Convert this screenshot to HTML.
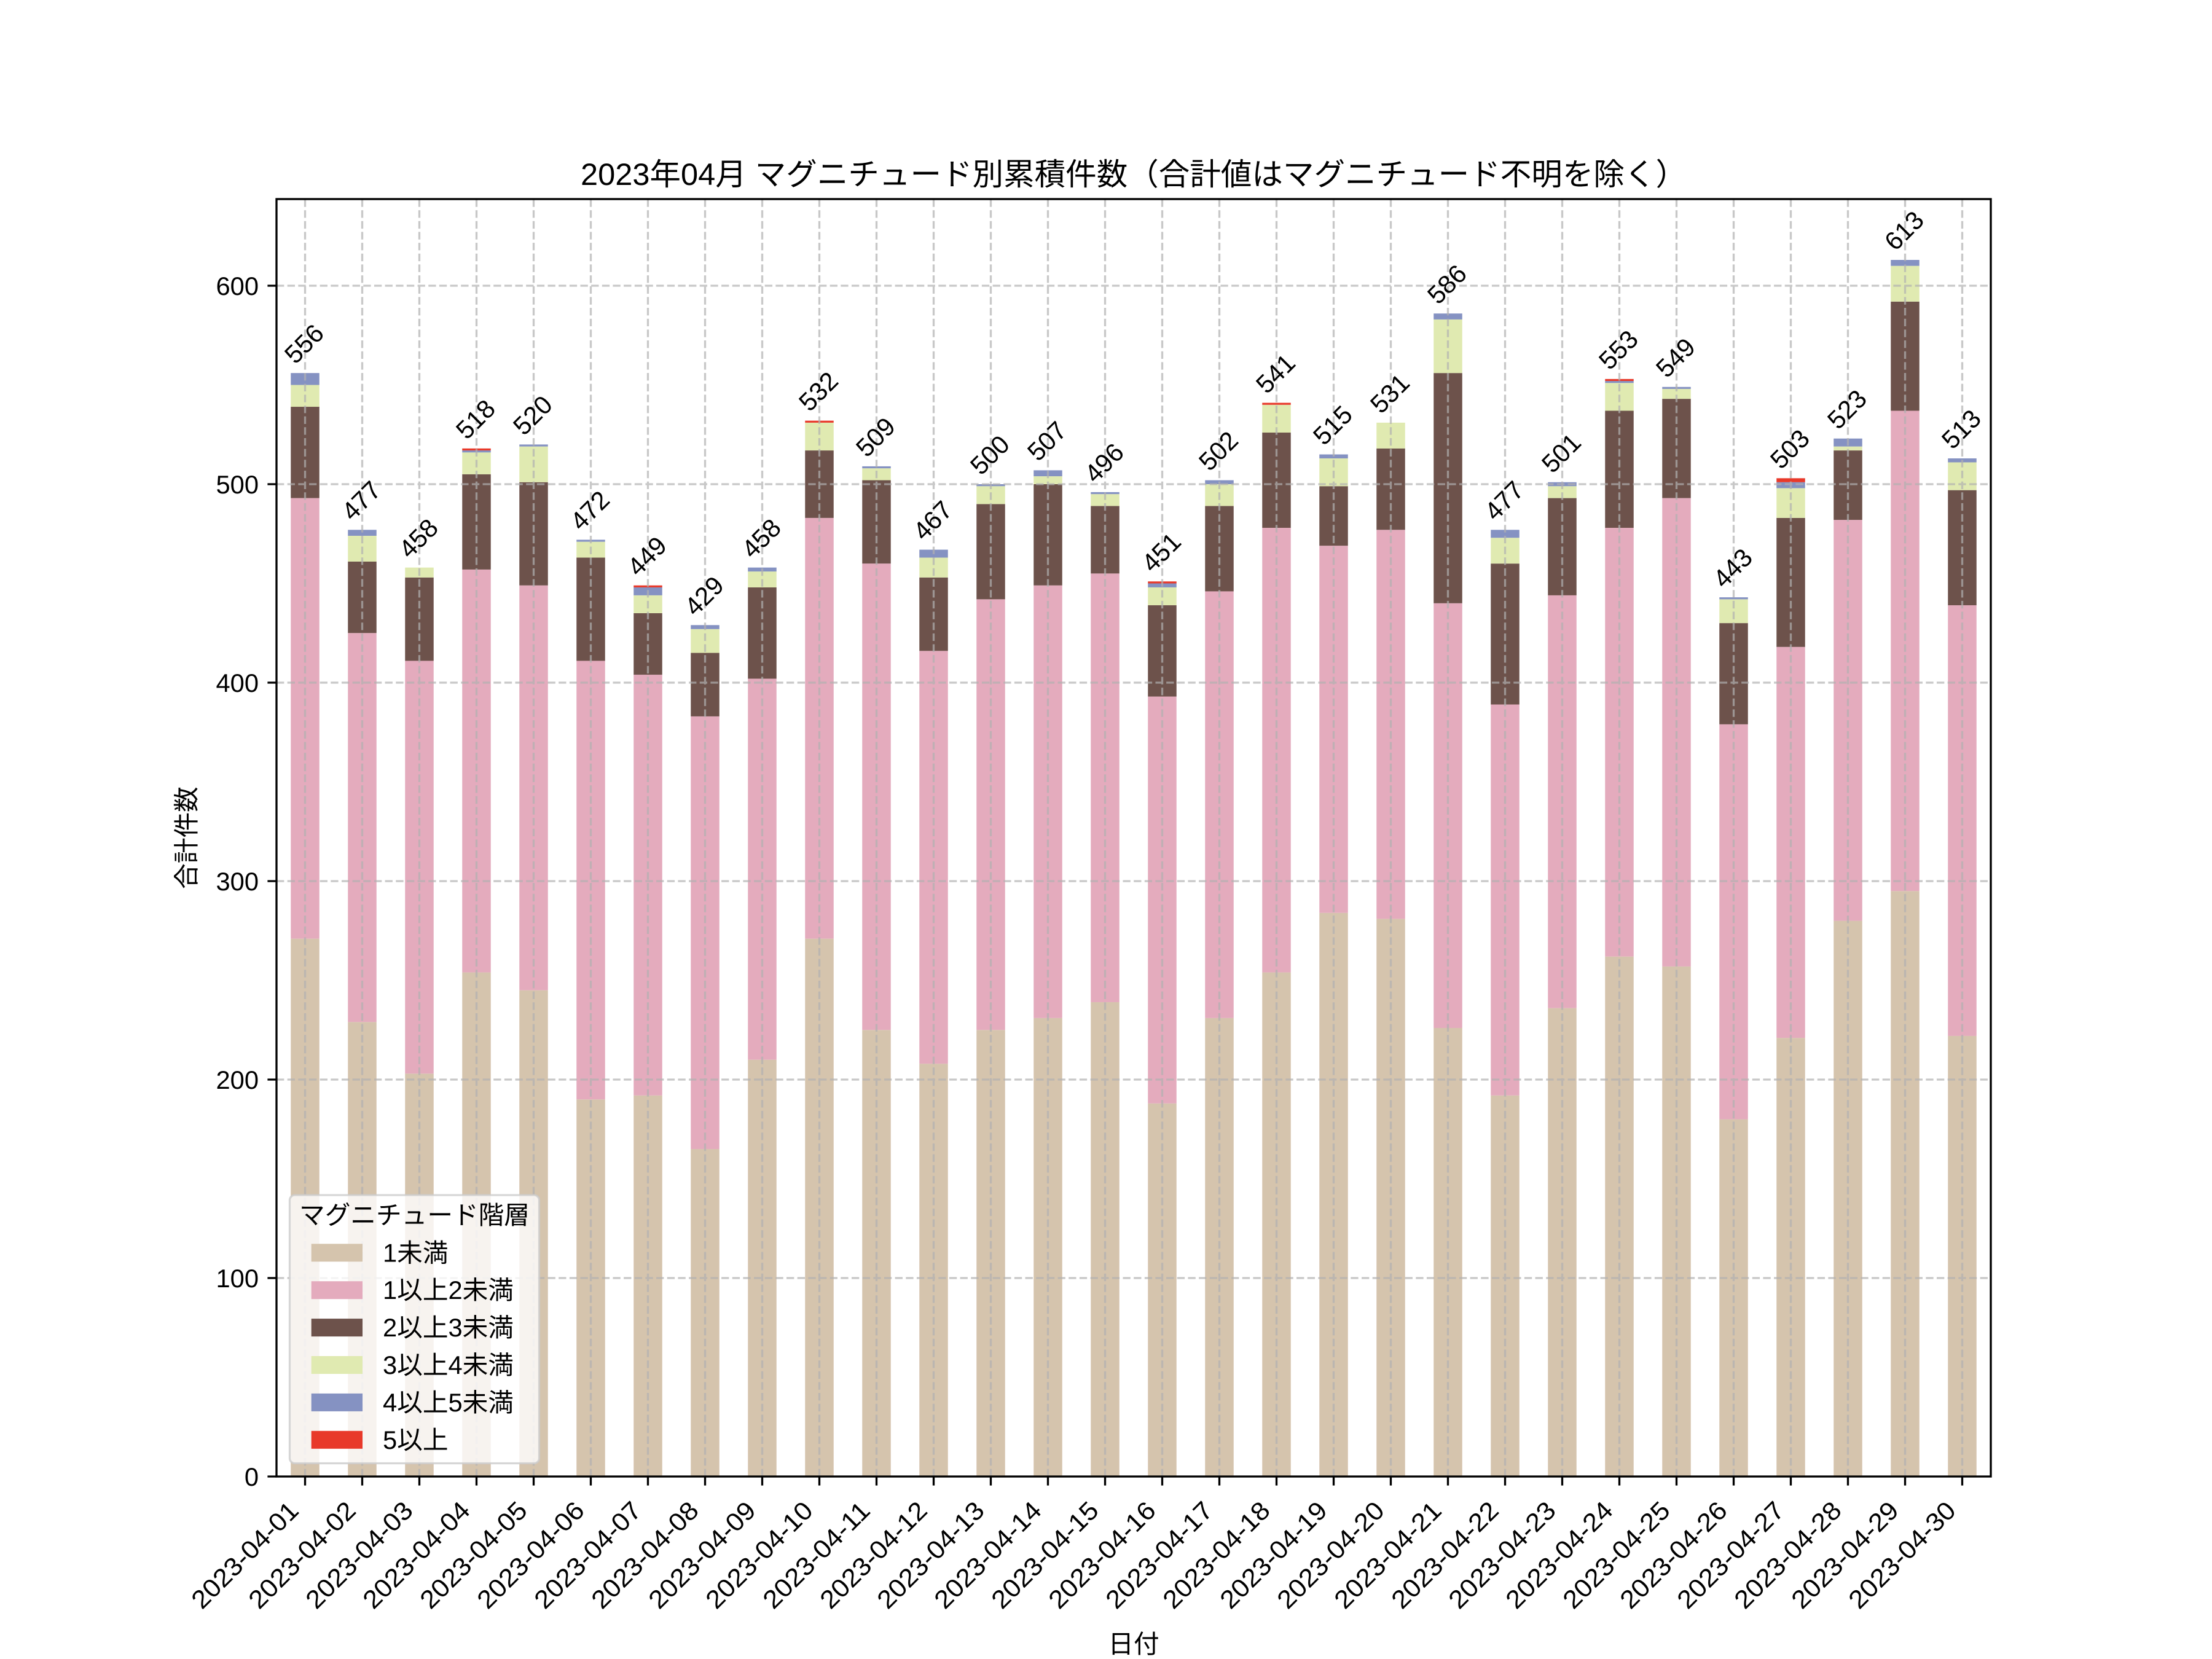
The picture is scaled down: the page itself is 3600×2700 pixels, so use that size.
<!DOCTYPE html>
<html><head><meta charset="utf-8">
<style>
html,body{margin:0;padding:0;background:#fff}
svg{display:block}
text{font-family:"Liberation Sans","Noto Sans CJK JP",sans-serif;fill:#000}
</style></head>
<body>
<svg width="3600" height="2700" viewBox="0 0 3600 2700" xmlns="http://www.w3.org/2000/svg">
<rect x="0" y="0" width="3600" height="2700" fill="#fff"/>

<!-- bars in data coords -->
<g transform="translate(496.5,2403) scale(93,-3.23)">
<g fill="#d5c4ad">
<rect x="-0.25" y="0" width="0.5" height="271"/><rect x="0.75" y="0" width="0.5" height="229"/><rect x="1.75" y="0" width="0.5" height="203"/><rect x="2.75" y="0" width="0.5" height="254"/><rect x="3.75" y="0" width="0.5" height="245"/><rect x="4.75" y="0" width="0.5" height="190"/><rect x="5.75" y="0" width="0.5" height="192"/><rect x="6.75" y="0" width="0.5" height="165"/><rect x="7.75" y="0" width="0.5" height="210"/><rect x="8.75" y="0" width="0.5" height="271"/>
<rect x="9.75" y="0" width="0.5" height="225"/><rect x="10.75" y="0" width="0.5" height="208"/><rect x="11.75" y="0" width="0.5" height="225"/><rect x="12.75" y="0" width="0.5" height="231"/><rect x="13.75" y="0" width="0.5" height="239"/><rect x="14.75" y="0" width="0.5" height="188"/><rect x="15.75" y="0" width="0.5" height="231"/><rect x="16.75" y="0" width="0.5" height="254"/><rect x="17.75" y="0" width="0.5" height="284"/><rect x="18.75" y="0" width="0.5" height="281"/>
<rect x="19.75" y="0" width="0.5" height="226"/><rect x="20.75" y="0" width="0.5" height="192"/><rect x="21.75" y="0" width="0.5" height="236"/><rect x="22.75" y="0" width="0.5" height="262"/><rect x="23.75" y="0" width="0.5" height="257"/><rect x="24.75" y="0" width="0.5" height="180"/><rect x="25.75" y="0" width="0.5" height="221"/><rect x="26.75" y="0" width="0.5" height="280"/><rect x="27.75" y="0" width="0.5" height="295"/><rect x="28.75" y="0" width="0.5" height="222"/>
</g>
<g fill="#e4abbd">
<rect x="-0.25" y="271" width="0.5" height="222"/><rect x="0.75" y="229" width="0.5" height="196"/><rect x="1.75" y="203" width="0.5" height="208"/><rect x="2.75" y="254" width="0.5" height="203"/><rect x="3.75" y="245" width="0.5" height="204"/><rect x="4.75" y="190" width="0.5" height="221"/><rect x="5.75" y="192" width="0.5" height="212"/><rect x="6.75" y="165" width="0.5" height="218"/><rect x="7.75" y="210" width="0.5" height="192"/><rect x="8.75" y="271" width="0.5" height="212"/>
<rect x="9.75" y="225" width="0.5" height="235"/><rect x="10.75" y="208" width="0.5" height="208"/><rect x="11.75" y="225" width="0.5" height="217"/><rect x="12.75" y="231" width="0.5" height="218"/><rect x="13.75" y="239" width="0.5" height="216"/><rect x="14.75" y="188" width="0.5" height="205"/><rect x="15.75" y="231" width="0.5" height="215"/><rect x="16.75" y="254" width="0.5" height="224"/><rect x="17.75" y="284" width="0.5" height="185"/><rect x="18.75" y="281" width="0.5" height="196"/>
<rect x="19.75" y="226" width="0.5" height="214"/><rect x="20.75" y="192" width="0.5" height="197"/><rect x="21.75" y="236" width="0.5" height="208"/><rect x="22.75" y="262" width="0.5" height="216"/><rect x="23.75" y="257" width="0.5" height="236"/><rect x="24.75" y="180" width="0.5" height="199"/><rect x="25.75" y="221" width="0.5" height="197"/><rect x="26.75" y="280" width="0.5" height="202"/><rect x="27.75" y="295" width="0.5" height="242"/><rect x="28.75" y="222" width="0.5" height="217"/>
</g>
<g fill="#6d524b">
<rect x="-0.25" y="493" width="0.5" height="46"/><rect x="0.75" y="425" width="0.5" height="36"/><rect x="1.75" y="411" width="0.5" height="42"/><rect x="2.75" y="457" width="0.5" height="48"/><rect x="3.75" y="449" width="0.5" height="52"/><rect x="4.75" y="411" width="0.5" height="52"/><rect x="5.75" y="404" width="0.5" height="31"/><rect x="6.75" y="383" width="0.5" height="32"/><rect x="7.75" y="402" width="0.5" height="46"/><rect x="8.75" y="483" width="0.5" height="34"/>
<rect x="9.75" y="460" width="0.5" height="42"/><rect x="10.75" y="416" width="0.5" height="37"/><rect x="11.75" y="442" width="0.5" height="48"/><rect x="12.75" y="449" width="0.5" height="51"/><rect x="13.75" y="455" width="0.5" height="34"/><rect x="14.75" y="393" width="0.5" height="46"/><rect x="15.75" y="446" width="0.5" height="43"/><rect x="16.75" y="478" width="0.5" height="48"/><rect x="17.75" y="469" width="0.5" height="30"/><rect x="18.75" y="477" width="0.5" height="41"/>
<rect x="19.75" y="440" width="0.5" height="116"/><rect x="20.75" y="389" width="0.5" height="71"/><rect x="21.75" y="444" width="0.5" height="49"/><rect x="22.75" y="478" width="0.5" height="59"/><rect x="23.75" y="493" width="0.5" height="50"/><rect x="24.75" y="379" width="0.5" height="51"/><rect x="25.75" y="418" width="0.5" height="65"/><rect x="26.75" y="482" width="0.5" height="35"/><rect x="27.75" y="537" width="0.5" height="55"/><rect x="28.75" y="439" width="0.5" height="58"/>
</g>
<g fill="#e0eab1">
<rect x="-0.25" y="539" width="0.5" height="11"/><rect x="0.75" y="461" width="0.5" height="13"/><rect x="1.75" y="453" width="0.5" height="5"/><rect x="2.75" y="505" width="0.5" height="11"/><rect x="3.75" y="501" width="0.5" height="18"/><rect x="4.75" y="463" width="0.5" height="8"/><rect x="5.75" y="435" width="0.5" height="9"/><rect x="6.75" y="415" width="0.5" height="12"/><rect x="7.75" y="448" width="0.5" height="8"/><rect x="8.75" y="517" width="0.5" height="14"/>
<rect x="9.75" y="502" width="0.5" height="6"/><rect x="10.75" y="453" width="0.5" height="10"/><rect x="11.75" y="490" width="0.5" height="9"/><rect x="12.75" y="500" width="0.5" height="4"/><rect x="13.75" y="489" width="0.5" height="6"/><rect x="14.75" y="439" width="0.5" height="9"/><rect x="15.75" y="489" width="0.5" height="11"/><rect x="16.75" y="526" width="0.5" height="14"/><rect x="17.75" y="499" width="0.5" height="14"/><rect x="18.75" y="518" width="0.5" height="13"/>
<rect x="19.75" y="556" width="0.5" height="27"/><rect x="20.75" y="460" width="0.5" height="13"/><rect x="21.75" y="493" width="0.5" height="6"/><rect x="22.75" y="537" width="0.5" height="14"/><rect x="23.75" y="543" width="0.5" height="5"/><rect x="24.75" y="430" width="0.5" height="12"/><rect x="25.75" y="483" width="0.5" height="15"/><rect x="26.75" y="517" width="0.5" height="2"/><rect x="27.75" y="592" width="0.5" height="18"/><rect x="28.75" y="497" width="0.5" height="14"/>
</g>
<g fill="#8592c2">
<rect x="-0.25" y="550" width="0.5" height="6"/><rect x="0.75" y="474" width="0.5" height="3"/><rect x="2.75" y="516" width="0.5" height="1"/><rect x="3.75" y="519" width="0.5" height="1"/><rect x="4.75" y="471" width="0.5" height="1"/><rect x="5.75" y="444" width="0.5" height="4"/><rect x="6.75" y="427" width="0.5" height="2"/><rect x="7.75" y="456" width="0.5" height="2"/>
<rect x="9.75" y="508" width="0.5" height="1"/><rect x="10.75" y="463" width="0.5" height="4"/><rect x="11.75" y="499" width="0.5" height="1"/><rect x="12.75" y="504" width="0.5" height="3"/><rect x="13.75" y="495" width="0.5" height="1"/><rect x="14.75" y="448" width="0.5" height="2"/><rect x="15.75" y="500" width="0.5" height="2"/><rect x="17.75" y="513" width="0.5" height="2"/>
<rect x="19.75" y="583" width="0.5" height="3"/><rect x="20.75" y="473" width="0.5" height="4"/><rect x="21.75" y="499" width="0.5" height="2"/><rect x="22.75" y="551" width="0.5" height="1"/><rect x="23.75" y="548" width="0.5" height="1"/><rect x="24.75" y="442" width="0.5" height="1"/><rect x="25.75" y="498" width="0.5" height="3"/><rect x="26.75" y="519" width="0.5" height="4"/><rect x="27.75" y="610" width="0.5" height="3"/><rect x="28.75" y="511" width="0.5" height="2"/>
</g>
<g fill="#e8392a">
<rect x="2.75" y="517" width="0.5" height="1"/><rect x="5.75" y="448" width="0.5" height="1"/><rect x="8.75" y="531" width="0.5" height="1"/><rect x="14.75" y="450" width="0.5" height="1"/><rect x="16.75" y="540" width="0.5" height="1"/><rect x="22.75" y="552" width="0.5" height="1"/><rect x="25.75" y="501" width="0.5" height="2"/>
</g>
</g>

<!-- grid -->
<path d="M450 2080H3240M450 1757H3240M450 1434H3240M450 1111H3240M450 788H3240M450 465H3240
M496.5 2403V324M589.5 2403V324M682.5 2403V324M775.5 2403V324M868.5 2403V324M961.5 2403V324M1054.5 2403V324M1147.5 2403V324M1240.5 2403V324M1333.5 2403V324
M1426.5 2403V324M1519.5 2403V324M1612.5 2403V324M1705.5 2403V324M1798.5 2403V324M1891.5 2403V324M1984.5 2403V324M2077.5 2403V324M2170.5 2403V324M2263.5 2403V324
M2356.5 2403V324M2449.5 2403V324M2542.5 2403V324M2635.5 2403V324M2728.5 2403V324M2821.5 2403V324M2914.5 2403V324M3007.5 2403V324M3100.5 2403V324M3193.5 2403V324"
 fill="none" stroke="#b0b0b0" stroke-opacity="0.7" stroke-width="3.33" stroke-dasharray="12.33 5.33"/>

<!-- spines -->
<rect x="450" y="324" width="2790" height="2079" fill="none" stroke="#000" stroke-width="3.33" stroke-linejoin="miter"/>

<!-- ticks -->
<path d="M435.4 2403H450M435.4 2080H450M435.4 1757H450M435.4 1434H450M435.4 1111H450M435.4 788H450M435.4 465H450
M496.5 2403v14.6M589.5 2403v14.6M682.5 2403v14.6M775.5 2403v14.6M868.5 2403v14.6M961.5 2403v14.6M1054.5 2403v14.6M1147.5 2403v14.6M1240.5 2403v14.6M1333.5 2403v14.6
M1426.5 2403v14.6M1519.5 2403v14.6M1612.5 2403v14.6M1705.5 2403v14.6M1798.5 2403v14.6M1891.5 2403v14.6M1984.5 2403v14.6M2077.5 2403v14.6M2170.5 2403v14.6M2263.5 2403v14.6
M2356.5 2403v14.6M2449.5 2403v14.6M2542.5 2403v14.6M2635.5 2403v14.6M2728.5 2403v14.6M2821.5 2403v14.6M2914.5 2403v14.6M3007.5 2403v14.6M3100.5 2403v14.6M3193.5 2403v14.6"
 fill="none" stroke="#000" stroke-width="3.33"/>

<!-- y tick labels -->
<g font-size="41.67" text-anchor="end">
<text x="421" y="2418">0</text>
<text x="421" y="2095">100</text>
<text x="421" y="1772">200</text>
<text x="421" y="1449">300</text>
<text x="421" y="1126">400</text>
<text x="421" y="803">500</text>
<text x="421" y="480">600</text>
</g>

<!-- x tick labels -->
<g font-size="41.67">
<text transform="translate(488.5 2461) rotate(-45)" x="-226" y="0" textLength="226" lengthAdjust="spacingAndGlyphs">2023-04-01</text>
<text transform="translate(581.5 2461) rotate(-45)" x="-226" y="0" textLength="226" lengthAdjust="spacingAndGlyphs">2023-04-02</text>
<text transform="translate(674.5 2461) rotate(-45)" x="-226" y="0" textLength="226" lengthAdjust="spacingAndGlyphs">2023-04-03</text>
<text transform="translate(767.5 2461) rotate(-45)" x="-226" y="0" textLength="226" lengthAdjust="spacingAndGlyphs">2023-04-04</text>
<text transform="translate(860.5 2461) rotate(-45)" x="-226" y="0" textLength="226" lengthAdjust="spacingAndGlyphs">2023-04-05</text>
<text transform="translate(953.5 2461) rotate(-45)" x="-226" y="0" textLength="226" lengthAdjust="spacingAndGlyphs">2023-04-06</text>
<text transform="translate(1046.5 2461) rotate(-45)" x="-226" y="0" textLength="226" lengthAdjust="spacingAndGlyphs">2023-04-07</text>
<text transform="translate(1139.5 2461) rotate(-45)" x="-226" y="0" textLength="226" lengthAdjust="spacingAndGlyphs">2023-04-08</text>
<text transform="translate(1232.5 2461) rotate(-45)" x="-226" y="0" textLength="226" lengthAdjust="spacingAndGlyphs">2023-04-09</text>
<text transform="translate(1325.5 2461) rotate(-45)" x="-226" y="0" textLength="226" lengthAdjust="spacingAndGlyphs">2023-04-10</text>
<text transform="translate(1418.5 2461) rotate(-45)" x="-226" y="0" textLength="226" lengthAdjust="spacingAndGlyphs">2023-04-11</text>
<text transform="translate(1511.5 2461) rotate(-45)" x="-226" y="0" textLength="226" lengthAdjust="spacingAndGlyphs">2023-04-12</text>
<text transform="translate(1604.5 2461) rotate(-45)" x="-226" y="0" textLength="226" lengthAdjust="spacingAndGlyphs">2023-04-13</text>
<text transform="translate(1697.5 2461) rotate(-45)" x="-226" y="0" textLength="226" lengthAdjust="spacingAndGlyphs">2023-04-14</text>
<text transform="translate(1790.5 2461) rotate(-45)" x="-226" y="0" textLength="226" lengthAdjust="spacingAndGlyphs">2023-04-15</text>
<text transform="translate(1883.5 2461) rotate(-45)" x="-226" y="0" textLength="226" lengthAdjust="spacingAndGlyphs">2023-04-16</text>
<text transform="translate(1976.5 2461) rotate(-45)" x="-226" y="0" textLength="226" lengthAdjust="spacingAndGlyphs">2023-04-17</text>
<text transform="translate(2069.5 2461) rotate(-45)" x="-226" y="0" textLength="226" lengthAdjust="spacingAndGlyphs">2023-04-18</text>
<text transform="translate(2162.5 2461) rotate(-45)" x="-226" y="0" textLength="226" lengthAdjust="spacingAndGlyphs">2023-04-19</text>
<text transform="translate(2255.5 2461) rotate(-45)" x="-226" y="0" textLength="226" lengthAdjust="spacingAndGlyphs">2023-04-20</text>
<text transform="translate(2348.5 2461) rotate(-45)" x="-226" y="0" textLength="226" lengthAdjust="spacingAndGlyphs">2023-04-21</text>
<text transform="translate(2441.5 2461) rotate(-45)" x="-226" y="0" textLength="226" lengthAdjust="spacingAndGlyphs">2023-04-22</text>
<text transform="translate(2534.5 2461) rotate(-45)" x="-226" y="0" textLength="226" lengthAdjust="spacingAndGlyphs">2023-04-23</text>
<text transform="translate(2627.5 2461) rotate(-45)" x="-226" y="0" textLength="226" lengthAdjust="spacingAndGlyphs">2023-04-24</text>
<text transform="translate(2720.5 2461) rotate(-45)" x="-226" y="0" textLength="226" lengthAdjust="spacingAndGlyphs">2023-04-25</text>
<text transform="translate(2813.5 2461) rotate(-45)" x="-226" y="0" textLength="226" lengthAdjust="spacingAndGlyphs">2023-04-26</text>
<text transform="translate(2906.5 2461) rotate(-45)" x="-226" y="0" textLength="226" lengthAdjust="spacingAndGlyphs">2023-04-27</text>
<text transform="translate(2999.5 2461) rotate(-45)" x="-226" y="0" textLength="226" lengthAdjust="spacingAndGlyphs">2023-04-28</text>
<text transform="translate(3092.5 2461) rotate(-45)" x="-226" y="0" textLength="226" lengthAdjust="spacingAndGlyphs">2023-04-29</text>
<text transform="translate(3185.5 2461) rotate(-45)" x="-226" y="0" textLength="226" lengthAdjust="spacingAndGlyphs">2023-04-30</text>
</g>

<!-- value labels -->
<g font-size="41.67" text-anchor="middle">
<text transform="translate(505.1 569.7) rotate(-45)">556</text>
<text transform="translate(598.1 824.9) rotate(-45)">477</text>
<text transform="translate(691.1 886.3) rotate(-45)">458</text>
<text transform="translate(784.1 692.5) rotate(-45)">518</text>
<text transform="translate(877.1 686.0) rotate(-45)">520</text>
<text transform="translate(970.1 841.0) rotate(-45)">472</text>
<text transform="translate(1063.1 915.3) rotate(-45)">449</text>
<text transform="translate(1156.1 979.9) rotate(-45)">429</text>
<text transform="translate(1249.1 886.3) rotate(-45)">458</text>
<text transform="translate(1342.1 647.2) rotate(-45)">532</text>
<text transform="translate(1435.1 721.5) rotate(-45)">509</text>
<text transform="translate(1528.1 857.2) rotate(-45)">467</text>
<text transform="translate(1621.1 750.6) rotate(-45)">500</text>
<text transform="translate(1714.1 728.0) rotate(-45)">507</text>
<text transform="translate(1807.1 763.5) rotate(-45)">496</text>
<text transform="translate(1900.1 908.9) rotate(-45)">451</text>
<text transform="translate(1993.1 744.1) rotate(-45)">502</text>
<text transform="translate(2086.1 618.2) rotate(-45)">541</text>
<text transform="translate(2179.1 702.2) rotate(-45)">515</text>
<text transform="translate(2272.1 650.5) rotate(-45)">531</text>
<text transform="translate(2365.1 472.8) rotate(-45)">586</text>
<text transform="translate(2458.1 824.9) rotate(-45)">477</text>
<text transform="translate(2551.1 747.4) rotate(-45)">501</text>
<text transform="translate(2644.1 579.4) rotate(-45)">553</text>
<text transform="translate(2737.1 592.3) rotate(-45)">549</text>
<text transform="translate(2830.1 934.7) rotate(-45)">443</text>
<text transform="translate(2923.1 740.9) rotate(-45)">503</text>
<text transform="translate(3016.1 676.3) rotate(-45)">523</text>
<text transform="translate(3109.1 385.6) rotate(-45)">613</text>
<text transform="translate(3202.1 708.6) rotate(-45)">513</text>
</g>

<!-- legend -->
<rect x="471.5" y="1945" width="406" height="436.5" rx="8.3" ry="8.3" fill="#fff" fill-opacity="0.8" stroke="#cccccc" stroke-opacity="0.8" stroke-width="3.33"/>
<text x="674.5" y="1992" font-size="41.67" text-anchor="middle">マグニチュード階層</text>
<rect x="506.7" y="2024.3" width="83.3" height="29" fill="#d5c4ad"/>
<rect x="506.7" y="2085.2" width="83.3" height="29" fill="#e4abbd"/>
<rect x="506.7" y="2146.1" width="83.3" height="29" fill="#6d524b"/>
<rect x="506.7" y="2207" width="83.3" height="29" fill="#e0eab1"/>
<rect x="506.7" y="2267.9" width="83.3" height="29" fill="#8592c2"/>
<rect x="506.7" y="2328.8" width="83.3" height="29" fill="#e8392a"/>
<g font-size="41.67">
<text x="623" y="2053.3">1未満</text>
<text x="623" y="2114.2">1以上2未満</text>
<text x="623" y="2175.1">2以上3未満</text>
<text x="623" y="2236">3以上4未満</text>
<text x="623" y="2296.9">4以上5未満</text>
<text x="623" y="2357.8">5以上</text>
</g>

<!-- title & axis labels -->
<text x="945" y="301" font-size="50" textLength="1800" lengthAdjust="spacingAndGlyphs">2023年04月 マグニチュード別累積件数（合計値はマグニチュード不明を除く）</text>
<text x="1845" y="2690" font-size="41.67" text-anchor="middle">日付</text>
<text transform="translate(318 1363.5) rotate(-90)" font-size="41.67" text-anchor="middle">合計件数</text>
</svg>
</body></html>
